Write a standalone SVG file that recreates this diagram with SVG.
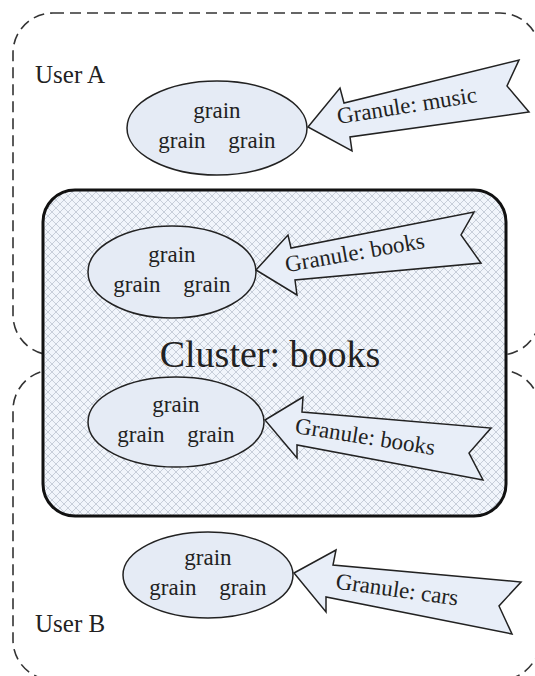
<svg xmlns="http://www.w3.org/2000/svg" width="535" height="676" viewBox="0 0 535 676" font-family="'Liberation Serif', 'Times New Roman', serif">
<defs>
<pattern id="hatch" width="8" height="8" patternUnits="userSpaceOnUse">
<rect width="8" height="8" fill="#f1f5fb"/>
<path d="M0,0 L8,8 M8,0 L0,8" stroke="#bcc4d0" stroke-width="0.8" fill="none"/>
</pattern>
</defs>
<style>
.user{fill:none;stroke:#333;stroke-width:1.6;stroke-dasharray:11 6}
.cluster{fill:url(#hatch);stroke:#111;stroke-width:3}
.ell{fill:#e5ebf5;stroke:#222;stroke-width:1.5}
.arr{fill:#e8eef8;stroke:#222;stroke-width:1.5;stroke-linejoin:miter}
text{font-family:"Liberation Serif","Times New Roman",serif;fill:#222}
.g{font-size:23px;text-anchor:middle}
.lab{font-size:23px;text-anchor:middle}
.user-lab{font-size:25px}
.big{font-size:38px;text-anchor:middle}
</style>
<rect width="535" height="676" fill="#fff"/>
<g id="userA">
<rect class="user" x="13" y="13" width="527" height="342" rx="40"/>
<text class="user-lab" x="35" y="83">User A</text>
</g>
<g id="userB">
<rect class="user" x="13" y="370" width="527" height="310" rx="40"/>
<text class="user-lab" x="35" y="632">User B</text>
</g>
<g id="cluster">
<rect class="cluster" x="43" y="190" width="463" height="326" rx="32"/>
<text class="big" x="270" y="367">Cluster: books</text>
</g>
<g id="grainsA">
<ellipse class="ell" cx="217" cy="128" rx="90" ry="47"/>
<text class="g"><tspan x="217" y="118">grain</tspan><tspan x="182" y="148">grain</tspan><tspan x="252" y="148">grain</tspan></text>
</g>
<g id="grainsC1">
<ellipse class="ell" cx="172" cy="272" rx="84" ry="46"/>
<text class="g"><tspan x="172" y="262">grain</tspan><tspan x="137" y="292">grain</tspan><tspan x="207" y="292">grain</tspan></text>
</g>
<g id="grainsC2">
<ellipse class="ell" cx="176" cy="422" rx="88" ry="45"/>
<text class="g"><tspan x="176" y="412">grain</tspan><tspan x="141" y="442">grain</tspan><tspan x="211" y="442">grain</tspan></text>
</g>
<g id="grainsB">
<ellipse class="ell" cx="208" cy="575" rx="85" ry="43"/>
<text class="g"><tspan x="208" y="565">grain</tspan><tspan x="173" y="595">grain</tspan><tspan x="243" y="595">grain</tspan></text>
</g>
<g id="connectors">
<g id="granuleMusic">
<polygon class="arr" points="308,127 340,88 344,103 519,60 507,86 529,112 350,137 352,151"/>
<text class="lab" transform="translate(408,113) rotate(-9)">Granule: music</text>
</g>
<g id="granuleBooks1">
<polygon class="arr" points="256,270 288,235 291,248 474,212 461,235 481,263 295,280 297,295"/>
<text class="lab" transform="translate(356,260) rotate(-10)">Granule: books</text>
</g>
<g id="granuleBooks2">
<polygon class="arr" points="265,420 303,397 302,412 491,428 469,453 483,480 297,445 297,458"/>
<text class="lab" transform="translate(364,444) rotate(9)">Granule: books</text>
</g>
<g id="granuleCars">
<polygon class="arr" points="294,573 336,550 333,565 521,582 499,606 512,634 326,597 326,612"/>
<text class="lab" transform="translate(396,597) rotate(8)">Granule: cars</text>
</g>
</g>
</svg>
